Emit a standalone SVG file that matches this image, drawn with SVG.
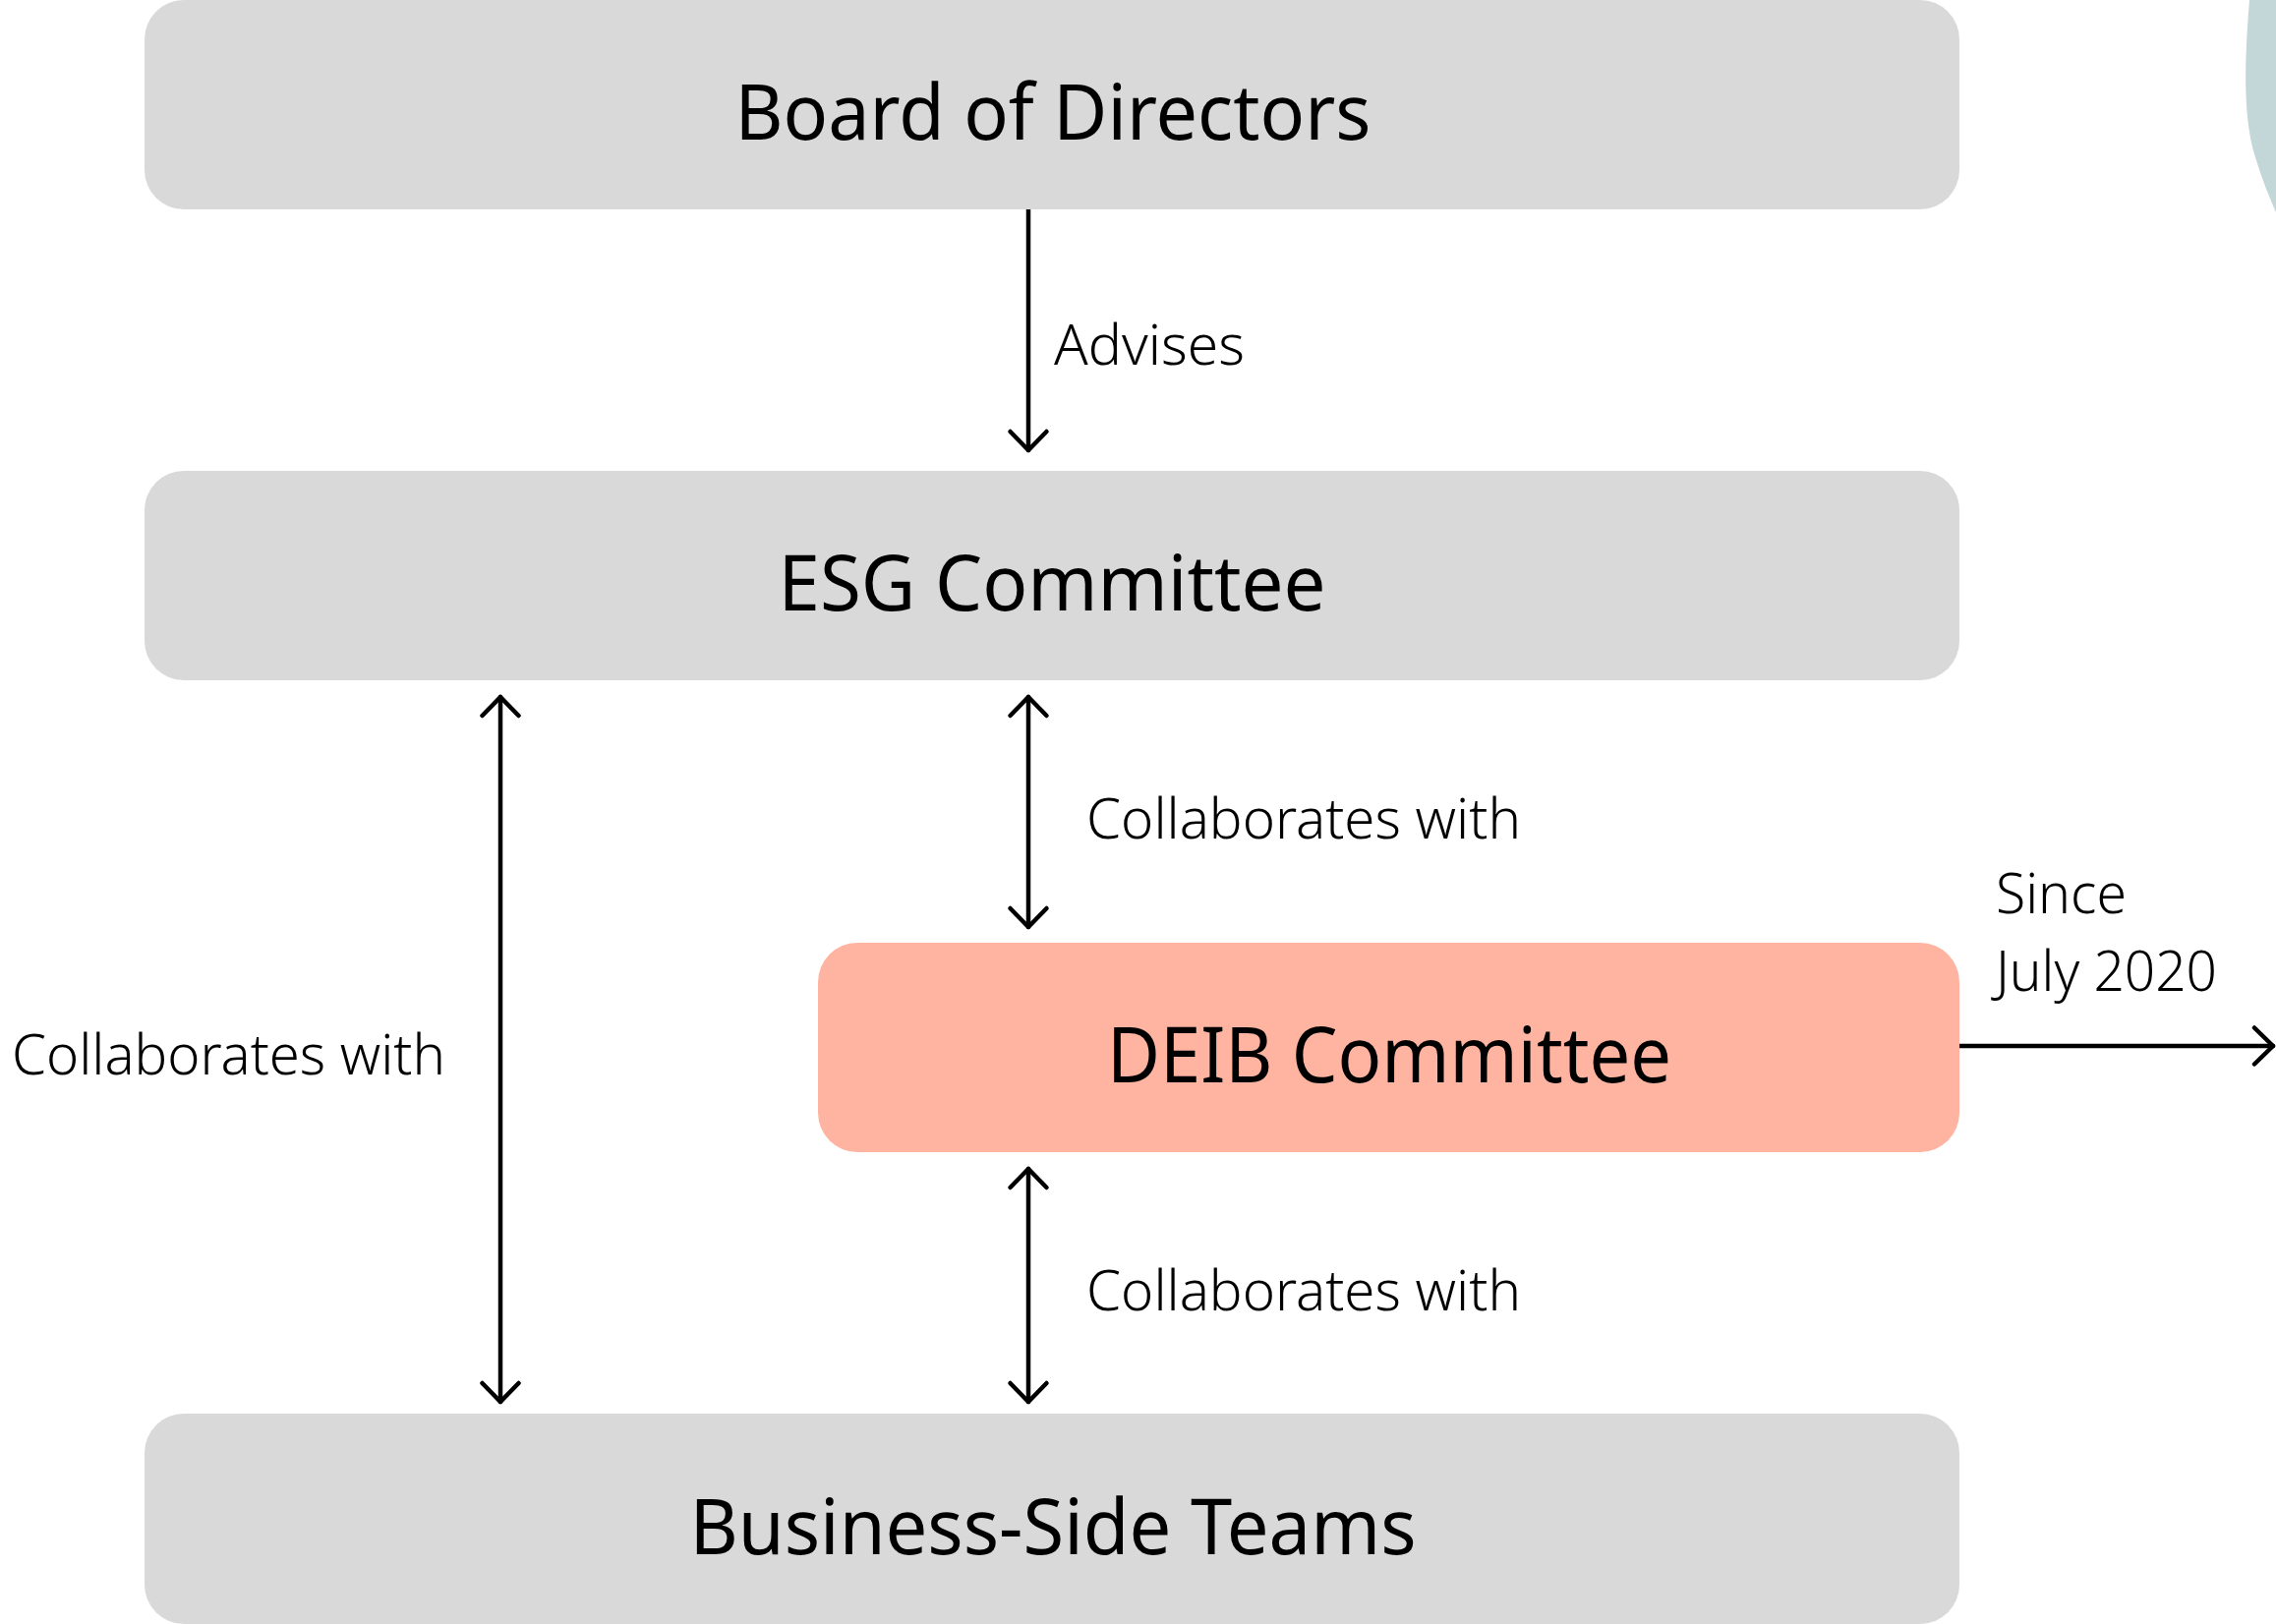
<svg xmlns="http://www.w3.org/2000/svg" width="2315" height="1652" viewBox="0 0 2315 1652">
  <style>
    .box { fill: #d9d9d9; }
    .deib { fill: #ffb3a1; }
    .title { font-family: "Noto Sans", "Liberation Sans", sans-serif; font-size: 79px; font-weight: 400; fill: #000000; text-anchor: middle; }
    .label { font-family: "Noto Sans", "Liberation Sans", sans-serif; font-size: 57px; font-weight: 300; fill: #000000; }
    .conn { stroke: #000000; stroke-width: 4.5; fill: none; stroke-linecap: round; }
  </style>
  <defs>
    <marker id="arrow" markerUnits="userSpaceOnUse" markerWidth="46" markerHeight="46" viewBox="-25 -23 30 46" refX="0" refY="0" orient="auto-start-reverse">
      <path d="M -19 -18.5 L 0 0 L -19 18.5" fill="none" stroke="#000000" stroke-width="4.5" stroke-linecap="round" stroke-linejoin="round"/>
    </marker>
  </defs>
  <rect width="2315" height="1652" fill="#ffffff"/>
  <path d="M 2288 0 C 2283 60 2281 120 2294 160 C 2301 183 2308 200 2315 216 L 2315 0 Z" fill="#c3d7d9"/>

  <g id="connectors">
    <line class="conn" x1="1046" y1="213" x2="1046" y2="458" marker-end="url(#arrow)"/>
    <line class="conn" x1="509" y1="709" x2="509" y2="1426" marker-start="url(#arrow)" marker-end="url(#arrow)"/>
    <line class="conn" x1="1046" y1="709" x2="1046" y2="943" marker-start="url(#arrow)" marker-end="url(#arrow)"/>
    <line class="conn" x1="1046" y1="1189" x2="1046" y2="1426" marker-start="url(#arrow)" marker-end="url(#arrow)"/>
    <line class="conn" x1="1993" y1="1064" x2="2312" y2="1064" marker-end="url(#arrow)"/>
    <text class="label" x="1072" y="371" textLength="194" lengthAdjust="spacingAndGlyphs">Advises</text>
    <text class="label" x="12" y="1093" textLength="441" lengthAdjust="spacingAndGlyphs">Collaborates with</text>
    <text class="label" x="1105" y="853" textLength="442" lengthAdjust="spacingAndGlyphs">Collaborates with</text>
    <text class="label" x="1105" y="1333" textLength="442" lengthAdjust="spacingAndGlyphs">Collaborates with</text>
    <text class="label" x="2030" y="929" textLength="133" lengthAdjust="spacingAndGlyphs">Since</text>
    <text class="label" x="2030" y="1008" textLength="225" lengthAdjust="spacingAndGlyphs">July 2020</text>
  </g>

  <g id="board">
    <rect class="box" x="147" y="0" width="1846" height="213" rx="40" ry="40"/>
    <text class="title" x="1071" y="142" textLength="647" lengthAdjust="spacingAndGlyphs">Board of Directors</text>
  </g>
  <g id="esg">
    <rect class="box" x="147" y="479" width="1846" height="213" rx="40" ry="40"/>
    <text class="title" x="1070" y="621" textLength="557" lengthAdjust="spacingAndGlyphs">ESG Committee</text>
  </g>
  <g id="deib">
    <rect class="deib" x="832" y="959" width="1161" height="213" rx="40" ry="40"/>
    <text class="title" x="1413" y="1101" textLength="574" lengthAdjust="spacingAndGlyphs">DEIB Committee</text>
  </g>
  <g id="business">
    <rect class="box" x="147" y="1438" width="1846" height="214" rx="40" ry="40"/>
    <text class="title" x="1071" y="1581" textLength="739" lengthAdjust="spacingAndGlyphs">Business-Side Teams</text>
  </g>
</svg>
